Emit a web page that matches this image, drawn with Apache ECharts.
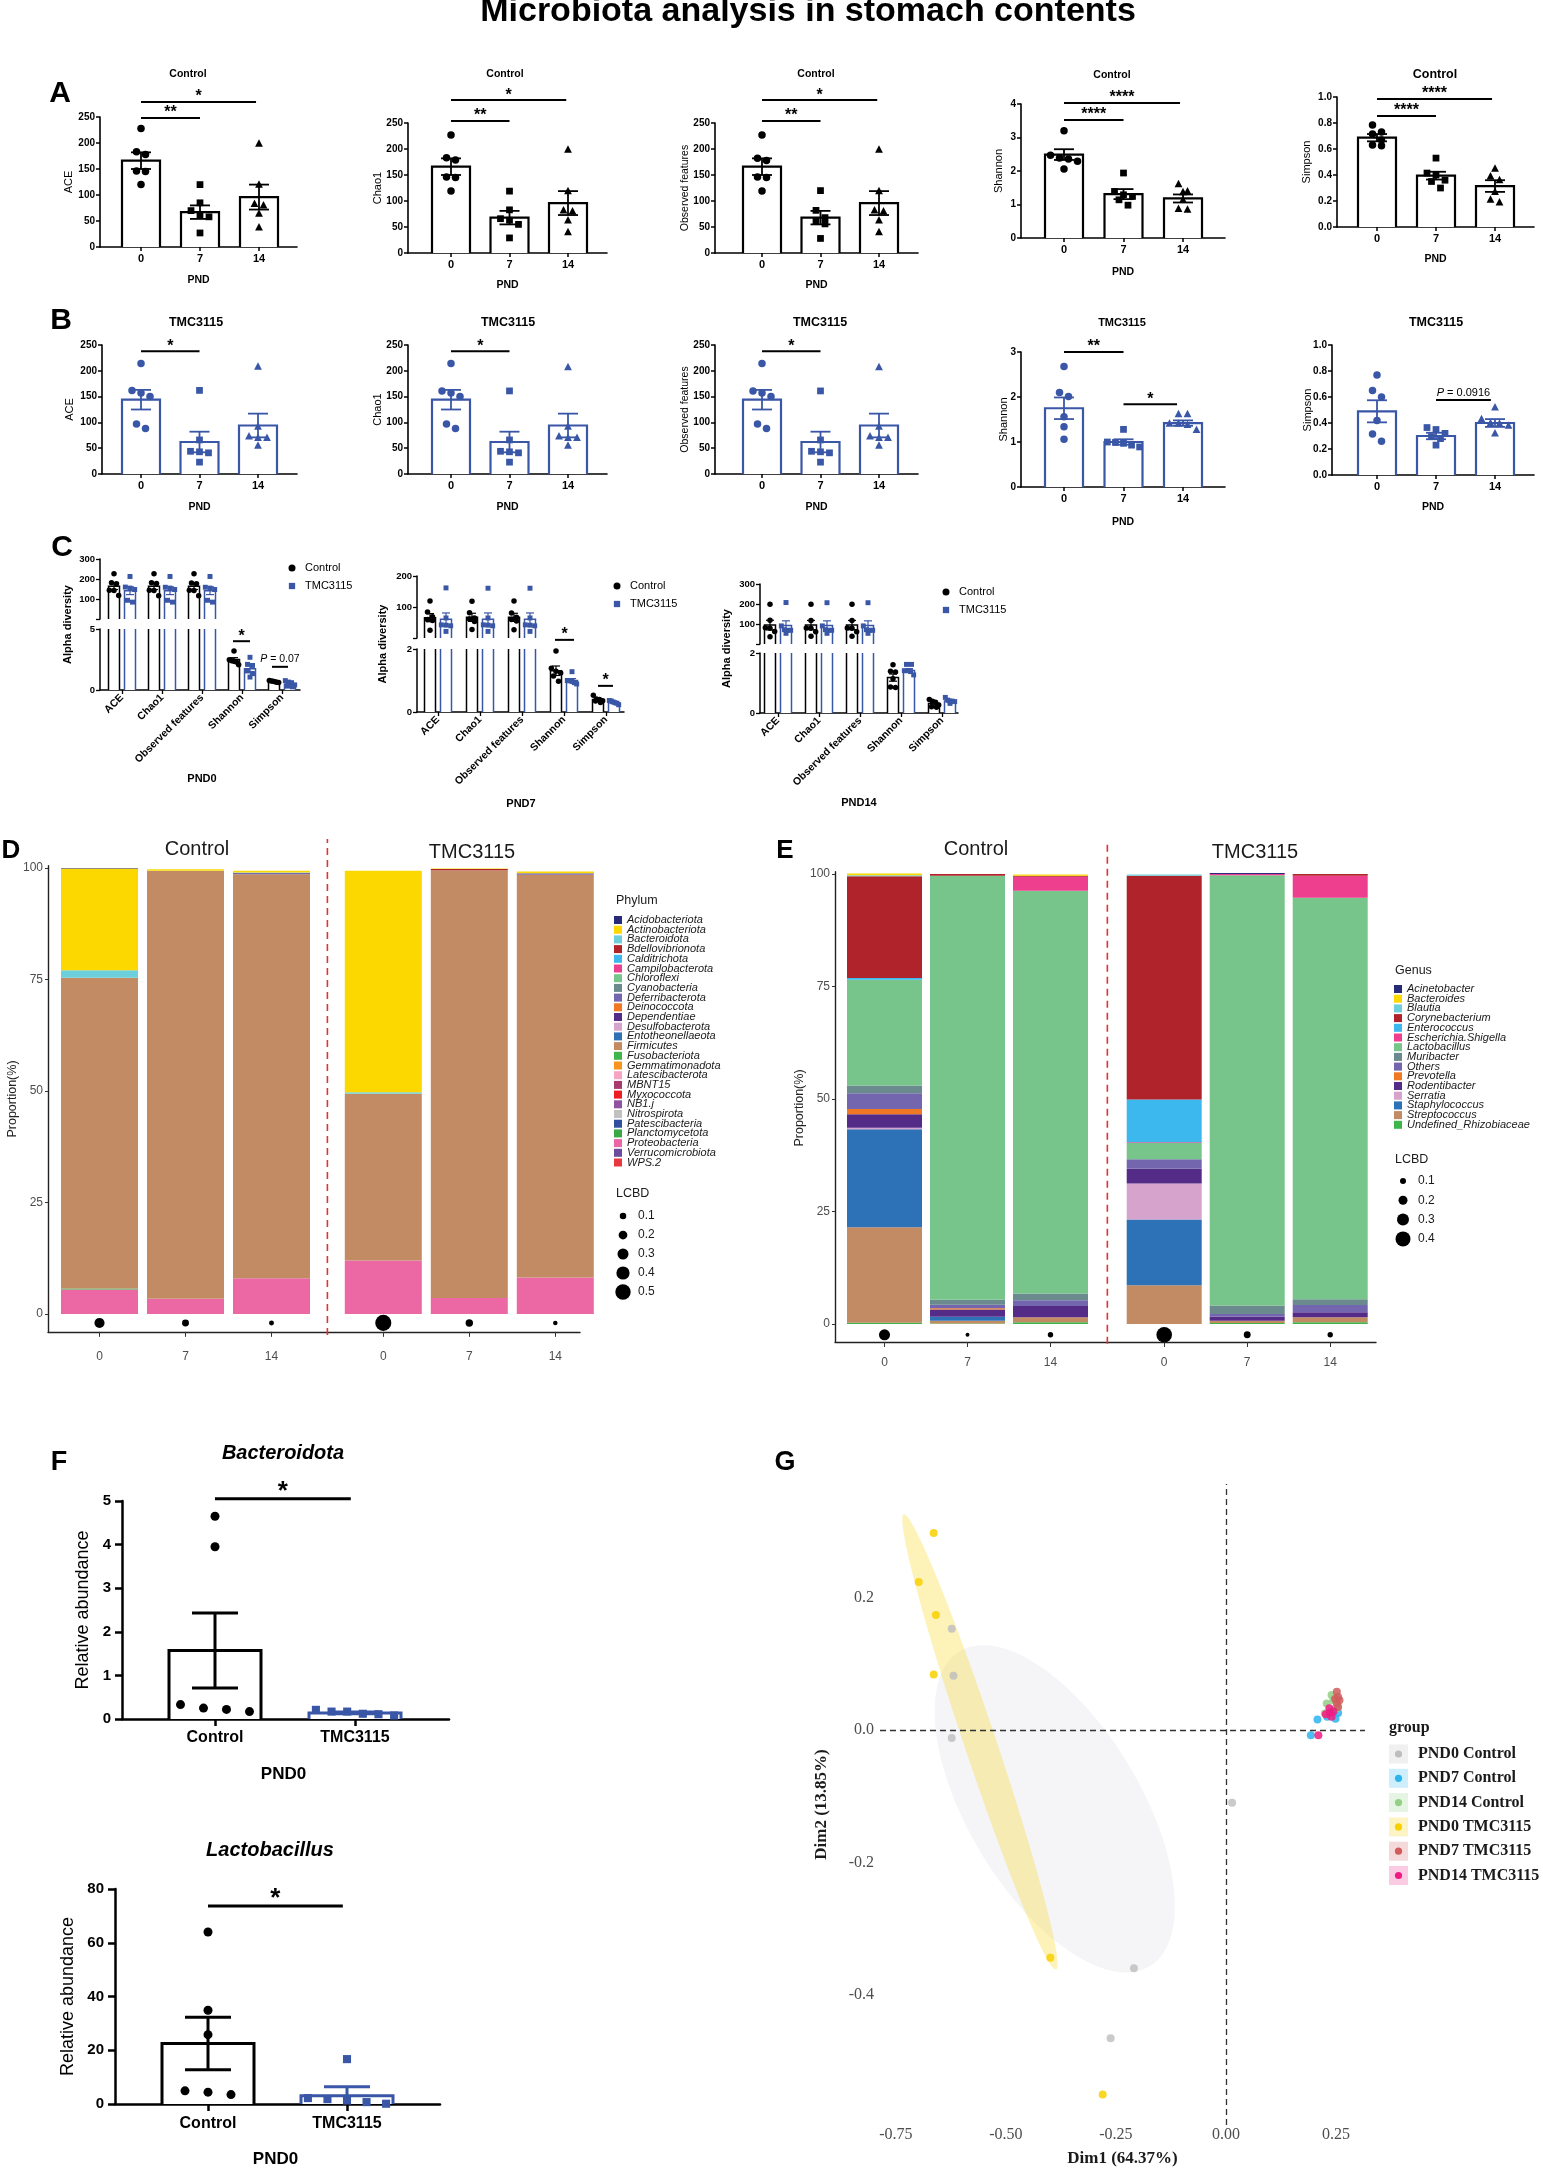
<!DOCTYPE html>
<html><head><meta charset="utf-8">
<script src="https://cdn.jsdelivr.net/npm/echarts@6/dist/echarts.min.js"></script>
<style>html,body{margin:0;padding:0;background:#fff}#c{width:1543px;height:2169px}</style>
</head><body><div id="c"></div>
<script>
// ================= DATA =================
const pndLabels = ['0', '7', '14'];
const metricLabels = ['ACE', 'Chao1', 'Observed features', 'Shannon', 'Simpson'];
const groupLabels = ['Control', 'TMC3115'];
const sampleLabels = ['0', '7', '14', '0', '7', '14'];

// Panel A (Control), values per PND 0 / 7 / 14
const aceCtrl = [[228,183,178,146,145,120],[120,85,70,61,58,27],[199,120,83,80,64,38]];
const aceCtrlMean = [166, 67, 96];
const aceCtrlSem = [16, 13, 24];
const chao1Ctrl = [[227,183,179,146,145,119],[119,83,66,63,55,29],[199,119,82,80,63,40]];
const chao1CtrlMean = [166, 68, 96];
const chao1CtrlSem = [16, 13, 23];
const obsCtrl = [[227,182,178,146,145,119],[120,82,68,61,56,28],[199,119,82,80,63,40]];
const obsCtrlMean = [166, 68, 96];
const obsCtrlSem = [16, 13, 23];
const shannonCtrl = [[3.2,2.47,2.39,2.36,2.29,2.06],[1.94,1.39,1.29,1.24,1.14,0.98],[1.61,1.39,1.37,1.14,0.87,0.85]];
const shannonCtrlMean = [2.49, 1.31, 1.18];
const shannonCtrlSem = [0.16, 0.15, 0.12];
const simpsonCtrl = [[0.785,0.73,0.715,0.67,0.63,0.625],[0.53,0.415,0.40,0.36,0.35,0.30],[0.45,0.39,0.36,0.27,0.21,0.19]];
const simpsonCtrlMean = [0.687, 0.395, 0.315];
const simpsonCtrlSem = [0.028, 0.03, 0.045];

// Panel B (TMC3115)
const aceTmc = [[214,162,157,150,97,88],[162,66,44,43,41,23],[208,92,73,70,70,55]];
const aceTmcMean = [144, 62, 94];
const aceTmcSem = [19, 20, 23];
const chao1Tmc = [[214,161,157,150,97,88],[161,66,44,43,41,23],[207,92,73,70,70,55]];
const chao1TmcMean = [144, 62, 94];
const chao1TmcSem = [19, 20, 23];
const obsTmc = [[214,161,157,150,97,88],[161,66,44,43,41,23],[207,92,73,70,70,55]];
const obsTmcMean = [144, 62, 94];
const obsTmcSem = [19, 20, 23];
const shannonTmc = [[2.68,2.10,2.01,1.56,1.34,1.06],[1.28,1.0,0.99,0.97,0.93,0.89],[1.62,1.62,1.41,1.41,1.38,1.27]];
const shannonTmcMean = [1.75, 1.0, 1.42];
const shannonTmcSem = [0.24, 0.06, 0.06];
const simpsonTmc = [[0.77,0.65,0.60,0.42,0.315,0.26],[0.365,0.35,0.32,0.295,0.28,0.23],[0.52,0.43,0.40,0.395,0.38,0.32]];
const simpsonTmcMean = [0.49, 0.30, 0.40];
const simpsonTmcSem = [0.085, 0.025, 0.03];

// Panel D – Phylum composition (C0, C7, C14, T0, T7, T14), %
const phylumNames = ['Acidobacteriota','Actinobacteriota','Bacteroidota','Bdellovibrionota','Calditrichota','Campilobacterota','Chloroflexi','Cyanobacteria','Deferribacterota','Deinococcota','Dependentiae','Desulfobacterota','Entotheonellaeota','Firmicutes','Fusobacteriota','Gemmatimonadota','Latescibacterota','MBNT15','Myxococcota','NB1.j','Nitrospirota','Patescibacteria','Planctomycetota','Proteobacteria','Verrucomicrobiota','WPS.2'];
const phyAcidobacteriota = [0.1, 0, 0, 0, 0, 0];
const phyActinobacteriota = [22.8, 0.3, 0.4, 49.7, 0.1, 0.4];
const phyBacteroidota = [1.7, 0.1, 0.1, 0.3, 0, 0];
const phyBdellovibrionota = [0, 0, 0, 0, 0.3, 0];
const phyDeferribacterota = [0, 0, 0.3, 0, 0, 0.3];
const phyFirmicutes = [69.7, 95.9, 90.6, 37.4, 95.9, 90.3];
const phyFusobacteriota = [0.2, 0, 0, 0, 0, 0];
const phyProteobacteria = [5.5, 3.4, 8.0, 12.0, 3.6, 8.2];
const lcbdPhylum = [0.26, 0.12, 0.03, 0.53, 0.14, 0.01];

// Panel E – Genus composition
const genusNames = ['Acinetobacter','Bacteroides','Blautia','Corynebacterium','Enterococcus','Escherichia.Shigella','Lactobacillus','Muribacter','Others','Prevotella','Rodentibacter','Serratia','Staphylococcus','Streptococcus','Undefined_Rhizobiaceae'];
const genAcinetobacter = [0, 0, 0, 0, 0.2, 0];
const genBacteroides = [0.4, 0, 0.3, 0, 0, 0];
const genBlautia = [0.2, 0, 0, 0.3, 0, 0];
const genCorynebacterium = [22.6, 0.4, 0.2, 49.7, 0, 0.4];
const genEnterococcus = [0.4, 0, 0, 9.5, 0, 0];
const genEscherichia = [0, 0, 3.1, 0.2, 0.3, 4.9];
const genLactobacillus = [23.5, 94.2, 89.5, 3.6, 95.6, 89.2];
const genMuribacter = [1.7, 1.1, 1.5, 0, 1.9, 1.3];
const genOthers = [3.5, 0.8, 1.3, 2.1, 0.6, 1.6];
const genPrevotella = [1.2, 0.3, 0, 0, 0, 0];
const genRodentibacter = [3.0, 1.6, 2.5, 3.3, 0.9, 1.1];
const genSerratia = [0.3, 0, 0, 8.0, 0, 0];
const genStaphylococcus = [21.8, 0.9, 0, 14.6, 0, 0];
const genStreptococcus = [21.2, 0.6, 1.1, 8.6, 0.5, 1.1];
const genUndefinedRhizobiaceae = [0.3, 0.1, 0.4, 0, 0.2, 0.4];
const lcbdGenus = [0.27, 0.03, 0.08, 0.42, 0.13, 0.08];
const lcbdLegendD = [0.1, 0.2, 0.3, 0.4, 0.5];
const lcbdLegendE = [0.1, 0.2, 0.3, 0.4];

// Panel F – PND0 relative abundance
const bacteroidotaCtrl = [4.65, 3.95, 0.33, 0.25, 0.22, 0.17];
const bacteroidotaTmc = [0.17, 0.17, 0.11, 0.21, 0.12, 0.08];
const bacteroidotaMean = [1.57, 0.14];
const bacteroidotaSem = [0.86, 0.02];
const lactobacillusCtrl = [64, 34.9, 25.8, 4.9, 4.4, 3.5];
const lactobacillusTmc = [16.7, 2.2, 1.8, 1.3, 0.7, 0.1];
const lactobacillusMean = [22.5, 3.1];
const lactobacillusSem = [9.8, 3.3];

// Panel G – PCA (Dim1, Dim2)
const pcaGroups = ['PND0 Control','PND7 Control','PND14 Control','PND0 TMC3115','PND7 TMC3115','PND14 TMC3115'];
const pnd0Control = [[-0.623,0.153],[-0.619,0.082],[-0.623,-0.012],[0.014,-0.110],[-0.209,-0.360],[-0.262,-0.466]];
const pnd7Control = [[0.193,-0.008],[0.208,0.016],[0.255,0.026],[0.249,0.017],[0.245,0.030],[0.230,0.020]];
const pnd14Control = [[0.229,0.040],[0.240,0.053],[0.236,0.028],[0.225,0.025],[0.244,0.045],[0.252,0.033]];
const pnd0Tmc = [[-0.664,0.298],[-0.698,0.224],[-0.659,0.174],[-0.664,0.084],[-0.399,-0.344],[-0.280,-0.551]];
const pnd7Tmc = [[0.252,0.058],[0.255,0.050],[0.258,0.045],[0.248,0.047],[0.252,0.040],[0.255,0.035]];
const pnd14Tmc = [[0.210,-0.008],[0.236,0.026],[0.235,0.033],[0.240,0.020],[0.244,0.028],[0.227,0.024]];
const ellipsePnd0ControlCenter = [-0.389, -0.119];
const ellipsePnd0ControlAxes = [[0.2155, -0.2382], [-0.1675, -0.0669]];
const ellipsePnd0TmcCenter = [-0.559, -0.018];
const ellipsePnd0TmcAxes = [[0.173, -0.344], [-0.0345, -0.0077]];
const pcaTicksX = [-0.75, -0.5, -0.25, 0, 0.25];
const pcaTicksY = [-0.4, -0.2, 0, 0.2];

// ================= STYLE / LAYOUT =================
const SANS = "'Liberation Sans', Arial, Helvetica, sans-serif";
const SERIF = "'Liberation Serif', 'Times New Roman', serif";
const BLUE = '#3a57a7';
const phylumColors = ['#262a79','#fdd800','#6dcfdc','#b0232a','#3cb8ee','#ee3e8e','#77c58a','#6a8a8e','#7366af','#f07822','#552b88','#d5a3cc','#2d71b7','#c28b64','#3db54a','#f7941d','#f6a4c1','#a63a6c','#ec1d25','#8f53a2','#c1c1c1','#30509f','#3aa845','#eb68a4','#6d4c9e','#e9373f'];
const genusColors = ['#262a79','#fdd800','#6dcfdc','#b0232a','#3cb8ee','#ee3e8e','#77c58a','#6a8a8e','#7366af','#f07822','#552b88','#d5a3cc','#2d71b7','#c28b64','#3db54a'];
const pcaColors = ['#bdbdbd','#2cb4ef','#93cf84','#f8d000','#d05c5c','#ee1c82'];
const pndSymbols = ['circle', 'square', 'triangle'];

const grid = [], xAxis = [], yAxis = [], series = [], graphic = [];

function text(t, x, y, o) {
  o = o || {};
  const st = {text: t, fill: o.color || '#000',
    font: (o.style || 'normal') + ' ' + (o.weight || 'normal') + ' ' + (o.size || 12) + 'px ' + (o.family || SANS),
    textAlign: o.align || 'center', textVerticalAlign: o.valign || 'middle',
    align: o.align || 'center', verticalAlign: o.valign || 'middle'};
  graphic.push({type: 'text', x: x, y: y, rotation: o.rotation || 0, silent: true, z: 100, style: st});
}
function addGrid(l, t, w, h, xa, ya) {
  const i = grid.length;
  grid.push({left: l, top: t, width: w, height: h, containLabel: false, outerBoundsMode: 'none'});
  xAxis.push(Object.assign({gridIndex: i}, xa));
  yAxis.push(Object.assign({gridIndex: i}, ya));
  return i;
}
function symbolShape(sym, x, y, s, color) {
  if (sym === 'circle') return {type: 'circle', shape: {cx: x, cy: y, r: s / 2}, style: {fill: color}};
  if (sym === 'square') return {type: 'rect', shape: {x: x - s * 0.45, y: y - s * 0.45, width: s * 0.9, height: s * 0.9}, style: {fill: color}};
  return {type: 'polygon', shape: {points: [[x, y - s * 0.58], [x - s * 0.52, y + s * 0.42], [x + s * 0.52, y + s * 0.42]]}, style: {fill: color}};
}
function swarm(pys, size, gap, maxHalf) {
  const order = pys.map((p, i) => i).sort((a, b) => pys[a] - pys[b]);
  const offs = pys.map(() => 0);
  let row = [];
  const flush = () => {
    const n = row.length;
    if (n > 1) { const g = Math.min(gap, 2 * maxHalf / (n - 1)); row.forEach((k, j) => { offs[k] = (j - (n - 1) / 2) * g; }); }
    row = [];
  };
  order.forEach(k => { if (row.length && pys[k] - pys[row[0]] > size) flush(); row.push(k); });
  flush();
  return offs;
}
// bars (mean) + individual points + SEM error bars, clipped to the axis range rng=[min,max]
function dotBars(gi, groups, st, rng) {
  series.push({
    type: 'custom', xAxisIndex: gi, yAxisIndex: gi, silent: true, clip: false, z: 3,
    data: groups.map((g, k) => [g.x, g.mean, k]),
    renderItem: function (params, api) {
      const g = groups[api.value(2)];
      const cs = params.coordSys;
      const top = cs.y, bot = cs.y + cs.height;
      const xc = api.coord([g.x, rng[0]])[0] + (g.off || 0);
      const hw = st.barW / 2;
      const ch = [];
      if (g.mean > rng[0]) {
        const clipped = g.mean > rng[1];
        const yt = clipped ? top : api.coord([g.x, g.mean])[1];
        ch.push({type: 'rect', shape: {x: xc - hw, y: yt, width: st.barW, height: bot - yt}, style: {fill: '#fff'}});
        if (clipped) {
          ch.push({type: 'line', shape: {x1: xc - hw, y1: bot, x2: xc - hw, y2: yt}, style: {stroke: g.color, lineWidth: st.lw}});
          ch.push({type: 'line', shape: {x1: xc + hw, y1: bot, x2: xc + hw, y2: yt}, style: {stroke: g.color, lineWidth: st.lw}});
        } else {
          ch.push({type: 'polyline', shape: {points: [[xc - hw, bot], [xc - hw, yt], [xc + hw, yt], [xc + hw, bot]]}, style: {stroke: g.color, lineWidth: st.lw, fill: null, lineJoin: 'miter'}});
        }
      }
      const pys = [];
      g.values.forEach(v => { if (v >= rng[0] && v <= rng[1]) pys.push(api.coord([g.x, v])[1]); });
      const offs = swarm(pys, st.size, st.gap, hw * 0.85);
      pys.forEach((py, k) => ch.push(symbolShape(g.symbol, xc + offs[k], py, st.size, g.color)));
      const hi = g.mean + g.sem, lo = g.mean - g.sem;
      if (hi > rng[0] && lo < rng[1]) {
        const e1 = api.coord([g.x, Math.min(hi, rng[1])])[1], e0 = api.coord([g.x, Math.max(lo, rng[0])])[1];
        const es = {stroke: g.color, lineWidth: st.elw};
        ch.push({type: 'line', shape: {x1: xc, y1: e1, x2: xc, y2: e0}, style: es});
        if (hi <= rng[1]) ch.push({type: 'line', shape: {x1: xc - st.cap / 2, y1: e1, x2: xc + st.cap / 2, y2: e1}, style: es});
        if (lo >= rng[0]) ch.push({type: 'line', shape: {x1: xc - st.cap / 2, y1: e0, x2: xc + st.cap / 2, y2: e0}, style: es});
      }
      return {type: 'group', children: ch};
    }
  });
}
function sigLines(gi, items, st) {
  series.push({
    type: 'custom', xAxisIndex: gi, yAxisIndex: gi, silent: true, clip: false, z: 4,
    data: items.map((s, k) => [s.a, s.y, k]),
    renderItem: function (params, api) {
      const s = items[api.value(2)];
      const p1 = api.coord([s.a, s.y]), p2 = api.coord([s.b, s.y]);
      const x1 = p1[0] + (s.oa || 0), x2 = p2[0] + (s.ob || 0);
      const plain = !!s.plain;
      const ts = {text: s.t, x: (x1 + x2) / 2, y: p1[1] + (plain ? -2 : st.starDy),
        font: plain ? st.plainFont : st.font, fill: '#000',
        textAlign: 'center', textVerticalAlign: 'bottom', align: 'center', verticalAlign: 'bottom'};
      if (plain) ts.rich = {i: {fontStyle: 'italic', fontSize: st.plainSize, fontFamily: SANS}};
      return {type: 'group', children: [
        {type: 'line', shape: {x1: x1, y1: p1[1], x2: x2, y2: p1[1]}, style: {stroke: '#000', lineWidth: st.lw}},
        {type: 'text', style: ts}
      ]};
    }
  });
}
function axisLineStyle(w) { return {show: true, onZero: false, lineStyle: {color: '#000', width: w}}; }

// ---------- Title & panel letters ----------
text('Microbiota analysis in stomach contents', 808, 12, {size: 34, weight: 'bold'});
[['A', 60, 94, 30], ['B', 61, 321, 30], ['C', 62, 548, 30], ['D', 11, 851, 26], ['E', 785, 851, 26], ['F', 59, 1463, 27], ['G', 785, 1463, 27]]
  .forEach(a => text(a[0], a[1], a[2], {size: a[3], weight: 'bold'}));

// ---------- Panels A & B ----------
const metricsCtrl = [
  {name: 'ACE', vals: aceCtrl, mean: aceCtrlMean, sem: aceCtrlSem},
  {name: 'Chao1', vals: chao1Ctrl, mean: chao1CtrlMean, sem: chao1CtrlSem},
  {name: 'Observed features', vals: obsCtrl, mean: obsCtrlMean, sem: obsCtrlSem},
  {name: 'Shannon', vals: shannonCtrl, mean: shannonCtrlMean, sem: shannonCtrlSem},
  {name: 'Simpson', vals: simpsonCtrl, mean: simpsonCtrlMean, sem: simpsonCtrlSem}];
const metricsTmc = [
  {name: 'ACE', vals: aceTmc, mean: aceTmcMean, sem: aceTmcSem},
  {name: 'Chao1', vals: chao1Tmc, mean: chao1TmcMean, sem: chao1TmcSem},
  {name: 'Observed features', vals: obsTmc, mean: obsTmcMean, sem: obsTmcSem},
  {name: 'Shannon', vals: shannonTmc, mean: shannonTmcMean, sem: shannonTmcSem},
  {name: 'Simpson', vals: simpsonTmc, mean: simpsonTmcMean, sem: simpsonTmcSem}];
const axA = [{max: 250, interval: 50}, {max: 250, interval: 50}, {max: 250, interval: 50}, {max: 4, interval: 1}, {max: 1, interval: 0.2, dec: 1}];
const axB = [{max: 250, interval: 50}, {max: 250, interval: 50}, {max: 250, interval: 50}, {max: 3, interval: 1}, {max: 1, interval: 0.2, dec: 1}];
const layA = [
  {x0: 100, x1: 297, yT: 117, yB: 247, c0: 141, step: 59, tX: 188, tY: 74, tS: 10.5, pY: 280, nX: 69},
  {x0: 408, x1: 607, yT: 123, yB: 253, c0: 451, step: 58.5, tX: 505, tY: 74, tS: 10.5, pY: 285, nX: 378},
  {x0: 715, x1: 918, yT: 123, yB: 253, c0: 762, step: 58.5, tX: 816, tY: 74, tS: 10.5, pY: 285, nX: 685},
  {x0: 1021, x1: 1225, yT: 104, yB: 238, c0: 1064, step: 59.5, tX: 1112, tY: 75, tS: 10.5, pY: 272, nX: 999},
  {x0: 1337, x1: 1534, yT: 97, yB: 227, c0: 1377, step: 59, tX: 1435, tY: 75, tS: 12.5, pY: 259, nX: 1307}];
const layB = [
  {x0: 102, x1: 297, yT: 345, yB: 474, c0: 141, step: 58.5, tX: 196, tY: 323, tS: 12.5, pY: 507, nX: 70},
  {x0: 408, x1: 607, yT: 345, yB: 474, c0: 451, step: 58.5, tX: 508, tY: 323, tS: 12.5, pY: 507, nX: 378},
  {x0: 715, x1: 918, yT: 345, yB: 474, c0: 762, step: 58.5, tX: 820, tY: 323, tS: 12.5, pY: 507, nX: 685},
  {x0: 1021, x1: 1225, yT: 352, yB: 487, c0: 1064, step: 59.5, tX: 1122, tY: 323, tS: 11, pY: 522, nX: 1004},
  {x0: 1332, x1: 1534, yT: 345, yB: 475, c0: 1377, step: 59, tX: 1436, tY: 323, tS: 12.5, pY: 507, nX: 1308}];
const sigA = [
  [{a: 0, b: 1, y: 248, t: '**'}, {a: 0, b: 1.95, y: 279, t: '*'}],
  [{a: 0, b: 1, y: 254, t: '**'}, {a: 0, b: 1.97, y: 294, t: '*'}],
  [{a: 0, b: 1, y: 254, t: '**'}, {a: 0, b: 1.97, y: 294, t: '*'}],
  [{a: 0, b: 1, y: 3.52, t: '****'}, {a: 0, b: 1.95, y: 4.03, t: '****'}],
  [{a: 0, b: 1, y: 0.854, t: '****'}, {a: 0, b: 1.95, y: 0.985, t: '****'}]];
const sigB = [
  [{a: 0, b: 1, y: 238, t: '*'}],
  [{a: 0, b: 1, y: 238, t: '*'}],
  [{a: 0, b: 1, y: 238, t: '*'}],
  [{a: 0, b: 1, y: 3.0, t: '**'}, {a: 1, b: 1.9, y: 1.84, t: '*'}],
  [{a: 1, b: 1.93, y: 0.577, t: '{i|P} = 0.0916', plain: true}]];
const ST_AB = {barW: 38, lw: 2.2, cap: 20, size: 7.5, gap: 9, elw: 1.8};
const SIG_AB = {lw: 2, font: 'bold 16px ' + SANS, starDy: 3, plainFont: 'normal 11px ' + SANS, plainSize: 11};

function abPanel(L, M, ax, color, title, sigs) {
  const xmin = (L.x0 - L.c0) / L.step, xmax = (L.x1 - L.c0) / L.step;
  const fmt = ax.dec ? (v => v.toFixed(ax.dec)) : (v => String(v));
  const gi = addGrid(L.x0, L.yT, L.x1 - L.x0, L.yB - L.yT, {
    type: 'value', min: xmin, max: xmax, splitLine: {show: false},
    axisLine: axisLineStyle(1.6),
    axisTick: {show: true, customValues: [0, 1, 2], length: 4, lineStyle: {color: '#000', width: 1.5}},
    axisLabel: {show: true, customValues: [0, 1, 2], formatter: v => pndLabels[Math.round(v)], margin: 6, fontSize: 11, fontWeight: 'bold', color: '#000', fontFamily: SANS}
  }, {
    type: 'value', min: 0, max: ax.max, interval: ax.interval, splitLine: {show: false},
    axisLine: axisLineStyle(1.6),
    axisTick: {show: true, length: 4, lineStyle: {color: '#000', width: 1.5}},
    axisLabel: {show: true, formatter: fmt, margin: 5, fontSize: 10, fontWeight: 'bold', color: '#000', fontFamily: SANS}
  });
  const groups = [0, 1, 2].map(k => ({x: k, mean: M.mean[k], sem: M.sem[k], values: M.vals[k], color: color, symbol: pndSymbols[k]}));
  dotBars(gi, groups, ST_AB, [0, ax.max]);
  sigLines(gi, sigs, SIG_AB);
  text(title, L.tX, L.tY, {size: L.tS, weight: 'bold'});
  text('PND', (L.x0 + L.x1) / 2, L.pY, {size: 10.5, weight: 'bold'});
  text(M.name, L.nX, (L.yT + L.yB) / 2, {size: M.name.length > 10 ? 10.5 : 11, rotation: Math.PI / 2});
}
for (let i = 0; i < 5; i++) abPanel(layA[i], metricsCtrl[i], axA[i], '#000', groupLabels[0], sigA[i]);
for (let i = 0; i < 5; i++) abPanel(layB[i], metricsTmc[i], axB[i], BLUE, groupLabels[1], sigB[i]);

// ---------- Panel C ----------
const layC = [
  {x0: 100, x1: 300, c0: 122, step: 40, up: {t: 559, b: 619, min: 5, max: 300, ticks: [100, 200, 300]}, lo: {t: 629, b: 690, max: 5}, nX: 68, leg: [292, 568], pnd: [202, 779]},
  {x0: 417, x1: 624, c0: 438, step: 42, up: {t: 576, b: 638, min: 2, max: 200, ticks: [100, 200]}, lo: {t: 649, b: 712, max: 2}, nX: 383, leg: [617, 586], pnd: [521, 804]},
  {x0: 760, x1: 958, c0: 778, step: 41, up: {t: 584, b: 644, min: 2, max: 300, ticks: [100, 200, 300]}, lo: {t: 653, b: 713, max: 2}, nX: 727, leg: [946, 592], pnd: [859, 803]}];
const sigC = [
  [{a: 3, b: 3, oa: -9, ob: 8, y: 4.0, t: '*'}, {a: 4, b: 4, oa: -10, ob: 6, y: 1.9, t: '{i|P} = 0.07', plain: true}],
  [{a: 3, b: 3, oa: -9, ob: 10, y: 2.29, t: '*'}, {a: 4, b: 4, oa: -8, ob: 7, y: 0.83, t: '*'}],
  []];
const ST_C = {barW: 11, lw: 1.5, cap: 8, size: 5.5, gap: 5, elw: 1.2};
const SIG_C = {lw: 2, font: 'bold 16px ' + SANS, starDy: 3, plainFont: 'normal 10.5px ' + SANS, plainSize: 10.5};
const cTick = {fontSize: 9.5, fontWeight: 'bold', color: '#000', fontFamily: SANS, margin: 5};

function cPanel(L, p, sigs) {
  const xmin = (L.x0 - L.c0) / L.step, xmax = (L.x1 - L.c0) / L.step;
  const gu = addGrid(L.x0, L.up.t, L.x1 - L.x0, L.up.b - L.up.t,
    {type: 'value', min: xmin, max: xmax, show: false, splitLine: {show: false}},
    {type: 'value', min: L.up.min, max: L.up.max, splitLine: {show: false}, axisLine: axisLineStyle(1.5),
      axisTick: {show: true, customValues: [L.up.min].concat(L.up.ticks), length: 4, lineStyle: {color: '#000', width: 1.3}},
      axisLabel: Object.assign({show: true, customValues: L.up.ticks}, cTick)});
  const gl = addGrid(L.x0, L.lo.t, L.x1 - L.x0, L.lo.b - L.lo.t,
    {type: 'value', min: xmin, max: xmax, splitLine: {show: false}, axisLine: axisLineStyle(1.5),
      axisTick: {show: true, customValues: [0, 1, 2, 3, 4], length: 4, lineStyle: {color: '#000', width: 1.3}},
      axisLabel: {show: true, customValues: [0, 1, 2, 3, 4], formatter: v => metricLabels[Math.round(v)], rotate: 45, margin: 6, fontSize: 10.5, fontWeight: 'bold', color: '#000', fontFamily: SANS}},
    {type: 'value', min: 0, max: L.lo.max, splitLine: {show: false}, axisLine: axisLineStyle(1.5),
      axisTick: {show: true, customValues: [0, L.lo.max], length: 4, lineStyle: {color: '#000', width: 1.3}},
      axisLabel: Object.assign({show: true, customValues: [0, L.lo.max]}, cTick)});
  const groups = [];
  for (let m = 0; m < 5; m++) {
    groups.push({x: m, off: -8, mean: metricsCtrl[m].mean[p], sem: metricsCtrl[m].sem[p], values: metricsCtrl[m].vals[p], color: '#000', symbol: 'circle'});
    groups.push({x: m, off: 8, mean: metricsTmc[m].mean[p], sem: metricsTmc[m].sem[p], values: metricsTmc[m].vals[p], color: BLUE, symbol: 'square'});
  }
  dotBars(gu, groups, ST_C, [L.up.min, L.up.max]);
  dotBars(gl, groups, ST_C, [0, L.lo.max]);
  sigLines(gl, sigs, SIG_C);
  text('Alpha diversity', L.nX, (L.up.t + L.lo.b) / 2, {size: 11, weight: 'bold', rotation: Math.PI / 2});
  text('PND' + pndLabels[p], L.pnd[0], L.pnd[1], {size: 11, weight: 'bold'});
  graphic.push(Object.assign(symbolShape('circle', L.leg[0], L.leg[1], 7, '#000'), {silent: true, z: 100}));
  graphic.push(Object.assign(symbolShape('square', L.leg[0], L.leg[1] + 18, 7, BLUE), {silent: true, z: 100}));
  text(groupLabels[0], L.leg[0] + 13, L.leg[1], {size: 11, align: 'left'});
  text(groupLabels[1], L.leg[0] + 13, L.leg[1] + 18, {size: 11, align: 'left'});
}
for (let i = 0; i < 3; i++) cPanel(layC[i], i, sigC[i]);

// ---------- Panels D & E ----------
const phylumValues = {Acidobacteriota: phyAcidobacteriota, Actinobacteriota: phyActinobacteriota, Bacteroidota: phyBacteroidota,
  Bdellovibrionota: phyBdellovibrionota, Deferribacterota: phyDeferribacterota, Firmicutes: phyFirmicutes,
  Fusobacteriota: phyFusobacteriota, Proteobacteria: phyProteobacteria};
const genusValues = {Acinetobacter: genAcinetobacter, Bacteroides: genBacteroides, Blautia: genBlautia, Corynebacterium: genCorynebacterium,
  Enterococcus: genEnterococcus, 'Escherichia.Shigella': genEscherichia, Lactobacillus: genLactobacillus, Muribacter: genMuribacter,
  Others: genOthers, Prevotella: genPrevotella, Rodentibacter: genRodentibacter, Serratia: genSerratia,
  Staphylococcus: genStaphylococcus, Streptococcus: genStreptococcus, Undefined_Rhizobiaceae: genUndefinedRhizobiaceae};
const layD = {x0: 48, x1: 580, y100: 868, y0: 1314, yMax: 100.5, yMin: -4, c0: 99.5, step: 86, groupGap: 0.3, barW: 77, lcbdY: -2,
  dash: [-4.7, 106.5], labMargin: 19, gl: [[197, 849], [472, 852]], nameX: 13, nameY: 1099,
  legTitle: ['Phylum', 616, 901], legTop: 914, legLeft: 614, lcbdTitle: [616, 1194], lcbdX: 623, lcbdY0: 1216, lcbdStep: 19};
const layE = {x0: 835, x1: 1376, y100: 874, y0: 1324, yMax: 100.5, yMin: -4, c0: 884.5, step: 83, groupGap: 0.37, barW: 75, lcbdY: -2.4,
  dash: [-4.4, 107.5], labMargin: 15, gl: [[976, 849], [1255, 852]], nameX: 800, nameY: 1108,
  legTitle: ['Genus', 1395, 971], legTop: 983, legLeft: 1394, lcbdTitle: [1395, 1160], lcbdX: 1403, lcbdY0: 1181, lcbdStep: 19.3};
const LEG_SPACING = 9.7;
const sizeD = v => 4.3 + 22.25 * v;
const sizeE = v => 3 + 30 * v;
const legends = [];

function compPanel(L, names, colors, valueMap, lcbd, sizeFn, lcbdLegend) {
  const ppu = (L.y0 - L.y100) / 100;
  const top = L.y0 - L.yMax * ppu, height = (L.yMax - L.yMin) * ppu;
  const pos = sampleLabels.map((_, k) => k + Math.floor(k / 3) * L.groupGap);
  const xmin = (L.x0 - L.c0) / L.step, xmax = (L.x1 - L.c0) / L.step;
  const gi = addGrid(L.x0, top, L.x1 - L.x0, height, {
    type: 'value', min: xmin, max: xmax, splitLine: {show: false},
    axisLine: {show: true, onZero: false, lineStyle: {color: '#222', width: 1.4}},
    axisTick: {show: true, customValues: pos, length: 5, lineStyle: {color: '#333', width: 1}},
    axisLabel: {show: true, customValues: pos, formatter: v => { let k = 0; pos.forEach((p, j) => { if (Math.abs(p - v) < Math.abs(pos[k] - v)) k = j; }); return sampleLabels[k]; },
      margin: L.labMargin, fontSize: 12, color: '#4d4d4d', fontFamily: SANS}
  }, {
    type: 'value', min: L.yMin, max: L.yMax, splitLine: {show: false},
    axisLine: {show: true, onZero: false, lineStyle: {color: '#222', width: 1.4}},
    axisTick: {show: true, customValues: [0, 25, 50, 75, 100], length: 3, lineStyle: {color: '#333', width: 1}},
    axisLabel: {show: true, customValues: [0, 25, 50, 75, 100], margin: 5, fontSize: 12, color: '#4d4d4d', fontFamily: SANS}
  });
  // stacked composition bars: last legend entry at the bottom of each column
  const base = pos.map(() => 0);
  for (let i = names.length - 1; i >= 0; i--) {
    const v = valueMap[names[i]];
    const data = v ? pos.map((p, k) => { const b = base[k]; base[k] += v[k]; return [p, b, b + v[k]]; }) : [];
    const col = colors[i];
    series.push({type: 'custom', name: names[i], xAxisIndex: gi, yAxisIndex: gi, silent: true, z: 2,
      itemStyle: {color: col}, encode: {x: 0, y: [1, 2]}, data: data,
      renderItem: function (params, api) {
        const p0 = api.coord([api.value(0), api.value(1)]), p1 = api.coord([api.value(0), api.value(2)]);
        return {type: 'rect', shape: {x: p0[0] - L.barW / 2, y: p1[1], width: L.barW, height: p0[1] - p1[1]}, style: {fill: col}};
      }});
  }
  series.push({type: 'scatter', xAxisIndex: gi, yAxisIndex: gi, silent: true, z: 5, symbol: 'circle',
    symbolSize: d => sizeFn(d[2]), itemStyle: {color: '#000', opacity: 1},
    data: pos.map((p, k) => [p, L.lcbdY, lcbd[k]])});
  const mid = (pos[2] + pos[3]) / 2;
  series.push({type: 'line', xAxisIndex: gi, yAxisIndex: gi, silent: true, clip: false, symbol: 'none', z: 6,
    lineStyle: {color: '#e8312f', width: 1.6, type: [7, 5]}, data: [[mid, L.dash[0]], [mid, L.dash[1]]]});
  text(groupLabels[0], L.gl[0][0], L.gl[0][1], {size: 20, color: '#1a1a1a'});
  text(groupLabels[1], L.gl[1][0], L.gl[1][1], {size: 20, color: '#1a1a1a'});
  text('Proportion(%)', L.nameX, L.nameY, {size: 12.5, color: '#222', rotation: Math.PI / 2});
  text(L.legTitle[0], L.legTitle[1], L.legTitle[2], {size: 12.5, color: '#1a1a1a', align: 'left'});
  legends.push({data: names, orient: 'vertical', left: L.legLeft, top: L.legTop, itemWidth: 8, itemHeight: 8,
    itemGap: LEG_SPACING - 12, icon: 'rect', selectedMode: false, padding: 0,
    textStyle: {fontSize: 11, fontStyle: 'italic', fontFamily: SANS, color: '#1a1a1a', lineHeight: 12, height: 12}});
  text('LCBD', L.lcbdTitle[0], L.lcbdTitle[1], {size: 12.5, color: '#1a1a1a', align: 'left'});
  lcbdLegend.forEach((v, k) => {
    const y = L.lcbdY0 + k * L.lcbdStep;
    graphic.push({type: 'circle', silent: true, z: 100, shape: {cx: L.lcbdX, cy: y, r: sizeFn(v) / 2}, style: {fill: '#000'}});
    text(v.toFixed(1), L.lcbdX + 15, y, {size: 12, color: '#1a1a1a', align: 'left'});
  });
}
compPanel(layD, phylumNames, phylumColors, phylumValues, lcbdPhylum, sizeD, lcbdLegendD);
compPanel(layE, genusNames, genusColors, genusValues, lcbdGenus, sizeE, lcbdLegendE);

// ---------- Panel F ----------
const layF = [
  {x0: 122, x1: 449, yT: 1501, yB: 1719, c0: 215, step: 140, max: 5, interval: 1, title: 'Bacteroidota', tX: 283, tY: 1453, nX: 83, pY: 1774, m: 11,
    ctrl: bacteroidotaCtrl, tmc: bacteroidotaTmc, mean: bacteroidotaMean, sem: bacteroidotaSem, sig: 5.05},
  {x0: 115, x1: 440, yT: 1889, yB: 2104, c0: 208, step: 139, max: 80, interval: 20, title: 'Lactobacillus', tX: 270, tY: 1850, nX: 68, pY: 2159, m: 12,
    ctrl: lactobacillusCtrl, tmc: lactobacillusTmc, mean: lactobacillusMean, sem: lactobacillusSem, sig: 73.7}];
const ST_F = {barW: 92, lw: 3, cap: 46, size: 9, gap: 23, elw: 3};
const SIG_F = {lw: 3, font: 'bold 26px ' + SANS, starDy: 6};
layF.forEach(L => {
  const xmin = (L.x0 - L.c0) / L.step, xmax = (L.x1 - L.c0) / L.step;
  const gi = addGrid(L.x0, L.yT, L.x1 - L.x0, L.yB - L.yT, {
    type: 'value', min: xmin, max: xmax, splitLine: {show: false}, axisLine: axisLineStyle(2.5),
    axisTick: {show: true, customValues: [0, 1], length: 7, lineStyle: {color: '#000', width: 2.5}},
    axisLabel: {show: true, customValues: [0, 1], formatter: v => groupLabels[Math.round(v)], margin: L.m, fontSize: 16, fontWeight: 'bold', color: '#000', fontFamily: SANS}
  }, {
    type: 'value', min: 0, max: L.max, interval: L.interval, splitLine: {show: false}, axisLine: axisLineStyle(2.5),
    axisTick: {show: true, length: 7, lineStyle: {color: '#000', width: 2.5}},
    axisLabel: {show: true, margin: 11, fontSize: 15, fontWeight: 'bold', color: '#000', fontFamily: SANS}
  });
  dotBars(gi, [
    {x: 0, mean: L.mean[0], sem: L.sem[0], values: L.ctrl, color: '#000', symbol: 'circle'},
    {x: 1, mean: L.mean[1], sem: L.sem[1], values: L.tmc, color: BLUE, symbol: 'square'}], ST_F, [0, L.max]);
  sigLines(gi, [{a: 0, b: 0.97, y: L.sig, t: '*'}], SIG_F);
  text(L.title, L.tX, L.tY, {size: 20, weight: 'bold', style: 'italic'});
  text('Relative abundance', L.nX, (L.yT + L.yB) / 2, {size: 18, rotation: Math.PI / 2});
  text('PND0', (L.x0 + L.x1) / 2 - 2, L.pY, {size: 17, weight: 'bold'});
});

// ---------- Panel G ----------
const layG = {x0: 880, x1: 1365, yT: 1484, yB: 2125, xMin: -0.786, xMax: 0.316, yMin: -0.597, yMax: 0.372};
const gG = addGrid(layG.x0, layG.yT, layG.x1 - layG.x0, layG.yB - layG.yT, {
  type: 'value', min: layG.xMin, max: layG.xMax, splitLine: {show: false}, axisLine: {show: false, onZero: false}, axisTick: {show: false},
  axisLabel: {show: true, customValues: pcaTicksX, formatter: v => v.toFixed(2), margin: 2, fontSize: 16, color: '#4d4d4d', fontFamily: SERIF}
}, {
  type: 'value', min: layG.yMin, max: layG.yMax, splitLine: {show: false}, axisLine: {show: false, onZero: false}, axisTick: {show: false},
  axisLabel: {show: true, customValues: pcaTicksY, formatter: v => v.toFixed(1), margin: 6, fontSize: 16, color: '#4d4d4d', fontFamily: SERIF}
});
function ellipse(center, axes, fill) {
  series.push({type: 'custom', xAxisIndex: gG, yAxisIndex: gG, silent: true, clip: false, z: 1,
    data: [[center[0], center[1]]],
    renderItem: function (params, api) {
      const pts = [];
      for (let k = 0; k < 90; k++) {
        const t = k / 90 * 2 * Math.PI, c = Math.cos(t), s = Math.sin(t);
        pts.push(api.coord([center[0] + c * axes[0][0] + s * axes[1][0], center[1] + c * axes[0][1] + s * axes[1][1]]));
      }
      return {type: 'polygon', shape: {points: pts}, style: {fill: fill}};
    }});
}
ellipse(ellipsePnd0ControlCenter, ellipsePnd0ControlAxes, 'rgba(205,205,220,0.2)');
ellipse(ellipsePnd0TmcCenter, ellipsePnd0TmcAxes, 'rgba(247,209,0,0.28)');
[pnd0Control, pnd7Control, pnd14Control, pnd0Tmc, pnd7Tmc, pnd14Tmc].forEach((d, i) => {
  const s = {type: 'scatter', name: pcaGroups[i], xAxisIndex: gG, yAxisIndex: gG, silent: true, z: 3, symbolSize: 8,
    itemStyle: {color: pcaColors[i], opacity: i === 0 ? 0.8 : 0.85}, data: d};
  if (i === 0) s.markLine = {silent: true, symbol: 'none', label: {show: false}, animation: false,
    lineStyle: {type: [6, 4], color: '#333', width: 1.3}, data: [{xAxis: 0}, {yAxis: 0}]};
  series.push(s);
});
text('Dim1 (64.37%)', (layG.x0 + layG.x1) / 2, 2159, {size: 17, weight: 'bold', family: SERIF, color: '#1a1a1a'});
text('Dim2 (13.85%)', 822, (layG.yT + layG.yB) / 2, {size: 17, weight: 'bold', family: SERIF, color: '#1a1a1a', rotation: Math.PI / 2});
text('group', 1389, 1728, {size: 16, weight: 'bold', family: SERIF, color: '#1a1a1a', align: 'left'});
pcaGroups.forEach((g, i) => {
  const y = 1754 + i * 24.3;
  graphic.push({type: 'rect', silent: true, z: 100, shape: {x: 1389, y: y - 9.5, width: 19, height: 19}, style: {fill: pcaColors[i] + '3a'}});
  graphic.push({type: 'circle', silent: true, z: 101, shape: {cx: 1398.5, cy: y, r: 3.6}, style: {fill: pcaColors[i]}});
  text(g, 1418, y, {size: 16, weight: 'bold', family: SERIF, color: '#1a1a1a', align: 'left'});
});

// ================= RENDER =================
const chart = echarts.init(document.getElementById('c'), null, {renderer: 'canvas', width: 1543, height: 2169});
chart.setOption({
  animation: false, backgroundColor: '#fff',
  grid: grid, xAxis: xAxis, yAxis: yAxis, series: series, legend: legends,
  graphic: {elements: graphic}
});
</script></body></html>
